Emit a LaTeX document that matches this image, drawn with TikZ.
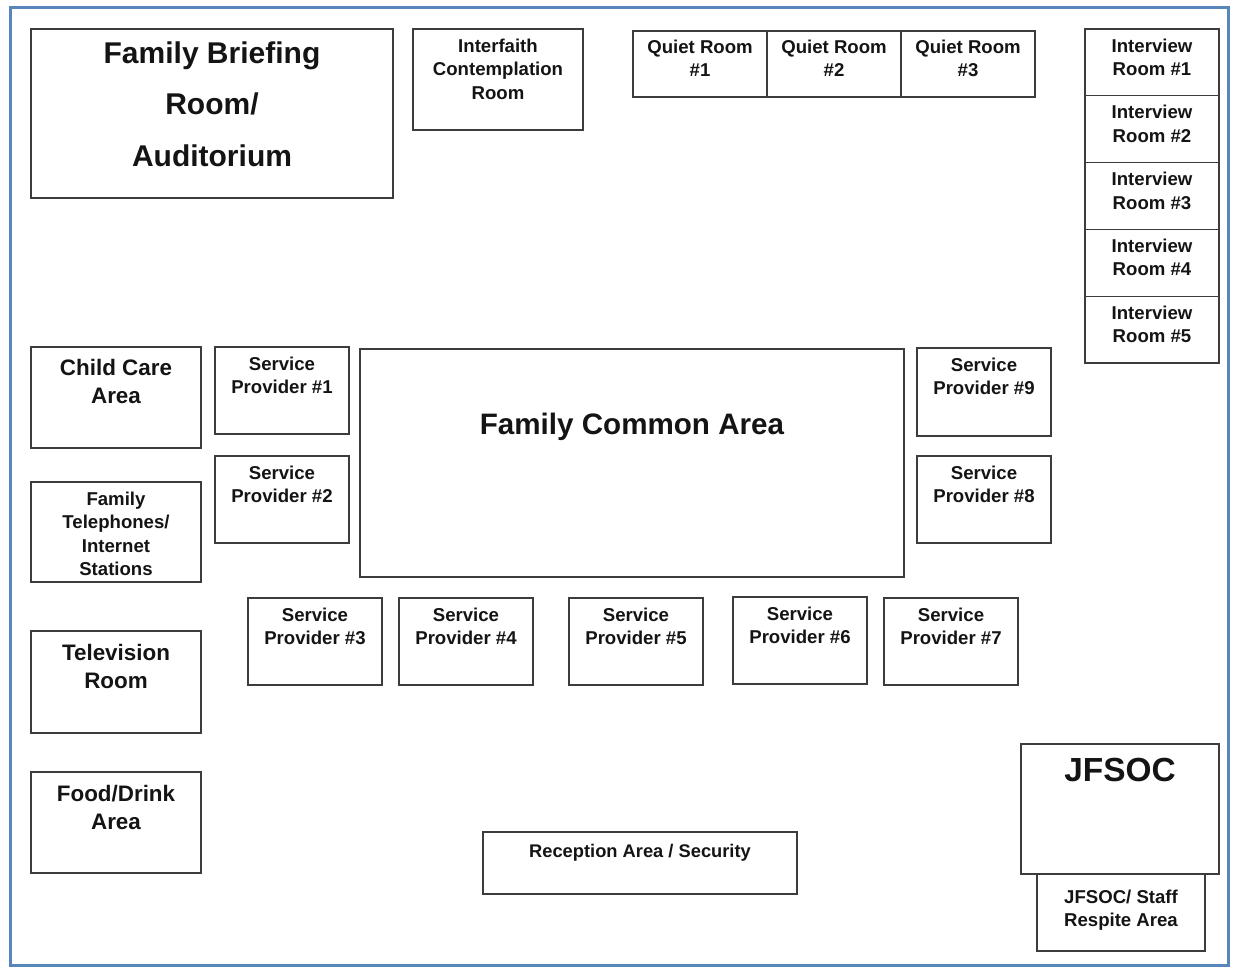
\documentclass[tikz,border=0pt]{standalone}
\usepackage{fontspec}
\setmainfont{Liberation Sans}
\usetikzlibrary{positioning}
\definecolor{wallblue}{RGB}{88,133,186}
\definecolor{roomline}{RGB}{60,60,60}
\definecolor{roomtext}{RGB}{20,20,20}

\begin{document}
\begin{tikzpicture}[x=1pt, y=-1pt,
    room/.style={draw=roomline, line width=1.3pt, minimum width=134pt, minimum height=87pt, inner sep=0pt},
    lab/.style={inner sep=0pt, align=center, text=roomtext, font=\bfseries\fontsize{18.6}{23.5}\selectfont},
    midlab/.style={lab, font=\bfseries\fontsize{22.4}{28}\selectfont},
    biglab/.style={lab, font=\bfseries\fontsize{30}{51.5}\selectfont}]

    \useasboundingbox (0,0) rectangle (1235,969);

    %% Outer wall
    \draw[wallblue, line width=3pt] (10.5,7.5) rectangle (1228.5,965.5);

    %% Top row
    % Family briefing room
    \node[room, minimum width=362pt, minimum height=169pt] (brief) at (212,113.5) {};
    \node[biglab, below=13pt of brief.north] (brieft) {Family Briefing\\Room/\\Auditorium};

    % Interfaith room
    \node[room, minimum width=170pt, minimum height=101pt] (faith) at (498,79.5) {};
    \node[lab, below=10pt of faith.north] (faitht) {Interfaith\\Contemplation\\Room};

    % Quiet rooms
    \node[room, minimum height=66pt] (quiet1) at (700,64) {};
    \node[lab, below=9pt of quiet1.north] (quiet1t) {Quiet Room\\\#1};
    \node[room, minimum height=66pt] (quiet2) at (834,64) {};
    \node[lab, below=9pt of quiet2.north] (quiet2t) {Quiet Room\\\#2};
    \node[room, minimum height=66pt] (quiet3) at (968,64) {};
    \node[lab, below=9pt of quiet3.north] (quiet3t) {Quiet Room\\\#3};

    %% Interview rooms
    \node[room, minimum height=66.8pt] (inter1) at (1152,62.4) {};
    \node[lab, below=10pt of inter1.north] (inter1t) {Interview\\Room \#1};
    \node[room, minimum height=66.8pt] (inter2) at (1152,129.2) {};
    \node[lab, below=10pt of inter2.north] (inter2t) {Interview\\Room \#2};
    \node[room, minimum height=66.8pt] (inter3) at (1152,196) {};
    \node[lab, below=10pt of inter3.north] (inter3t) {Interview\\Room \#3};
    \node[room, minimum height=66.8pt] (inter4) at (1152,262.8) {};
    \node[lab, below=10pt of inter4.north] (inter4t) {Interview\\Room \#4};
    \node[room, minimum height=66.8pt] (inter5) at (1152,329.6) {};
    \node[lab, below=10pt of inter5.north] (inter5t) {Interview\\Room \#5};

    %% Left column
    % Child care
    \node[room, minimum width=170pt, minimum height=101pt] (child) at (116,397.5) {};
    \node[midlab, below=12.5pt of child.north] (childt) {Child Care\\Area};

    % Telephones
    \node[room, minimum width=170pt, minimum height=100pt] (phone) at (116,532) {};
    \node[lab, below=10pt of phone.north] (phonet) {Family\\Telephones/\\Internet\\Stations};

    % Television
    \node[room, minimum width=170pt, minimum height=102pt] (tv) at (116,682) {};
    \node[midlab, below=13.5pt of tv.north] (tvt) {Television\\Room};

    % Food and drink
    \node[room, minimum width=170pt, minimum height=101pt] (food) at (116,822.5) {};
    \node[midlab, below=13.5pt of food.north] (foodt) {Food/Drink\\Area};

    %% Family common area
    \node[room, minimum width=544pt, minimum height=228pt] (common) at (632,463) {};
    \node[lab, font=\bfseries\fontsize{29.6}{34}\selectfont, below=64pt of common.north] (commont) {Family Common Area};

    %% Service providers
    \node[room] (sp1) at (282,390.5) {};
    \node[lab, below=10pt of sp1.north] (sp1t) {Service\\Provider \#1};
    \node[room] (sp2) at (282,499.5) {};
    \node[lab, below=10pt of sp2.north] (sp2t) {Service\\Provider \#2};
    \node[room] (sp3) at (315,641.5) {};
    \node[lab, below=10pt of sp3.north] (sp3t) {Service\\Provider \#3};
    \node[room] (sp4) at (466,641.5) {};
    \node[lab, below=10pt of sp4.north] (sp4t) {Service\\Provider \#4};
    \node[room] (sp5) at (636,641.5) {};
    \node[lab, below=10pt of sp5.north] (sp5t) {Service\\Provider \#5};
    \node[room] (sp6) at (800,640.5) {};
    \node[lab, below=10pt of sp6.north] (sp6t) {Service\\Provider \#6};
    \node[room] (sp7) at (951,641.5) {};
    \node[lab, below=10pt of sp7.north] (sp7t) {Service\\Provider \#7};
    \node[room] (sp8) at (984,499.5) {};
    \node[lab, below=10pt of sp8.north] (sp8t) {Service\\Provider \#8};
    \node[room, minimum height=88pt] (sp9) at (984,392) {};
    \node[lab, below=10pt of sp9.north] (sp9t) {Service\\Provider \#9};

    %% Reception
    \node[room, minimum width=314pt, minimum height=62pt] (recep) at (640,863) {};
    \node[lab, font=\bfseries\fontsize{18.3}{22}\selectfont, below=12.5pt of recep.north] (recept) {Reception Area / Security};

    %% JFSOC
    \node[room, minimum width=198pt, minimum height=130pt] (jfsoc) at (1120,809) {};
    \node[lab, font=\bfseries\fontsize{33.4}{40}\selectfont, below=14.5pt of jfsoc.north] (jfsoct) {JFSOC};

    % Staff respite
    \node[room, minimum width=168pt, minimum height=77pt] (staff) at (1121,912.5) {};
    \node[lab, below=16pt of staff.north] (stafft) {JFSOC/ Staff\\Respite Area};

\end{tikzpicture}
\end{document}
